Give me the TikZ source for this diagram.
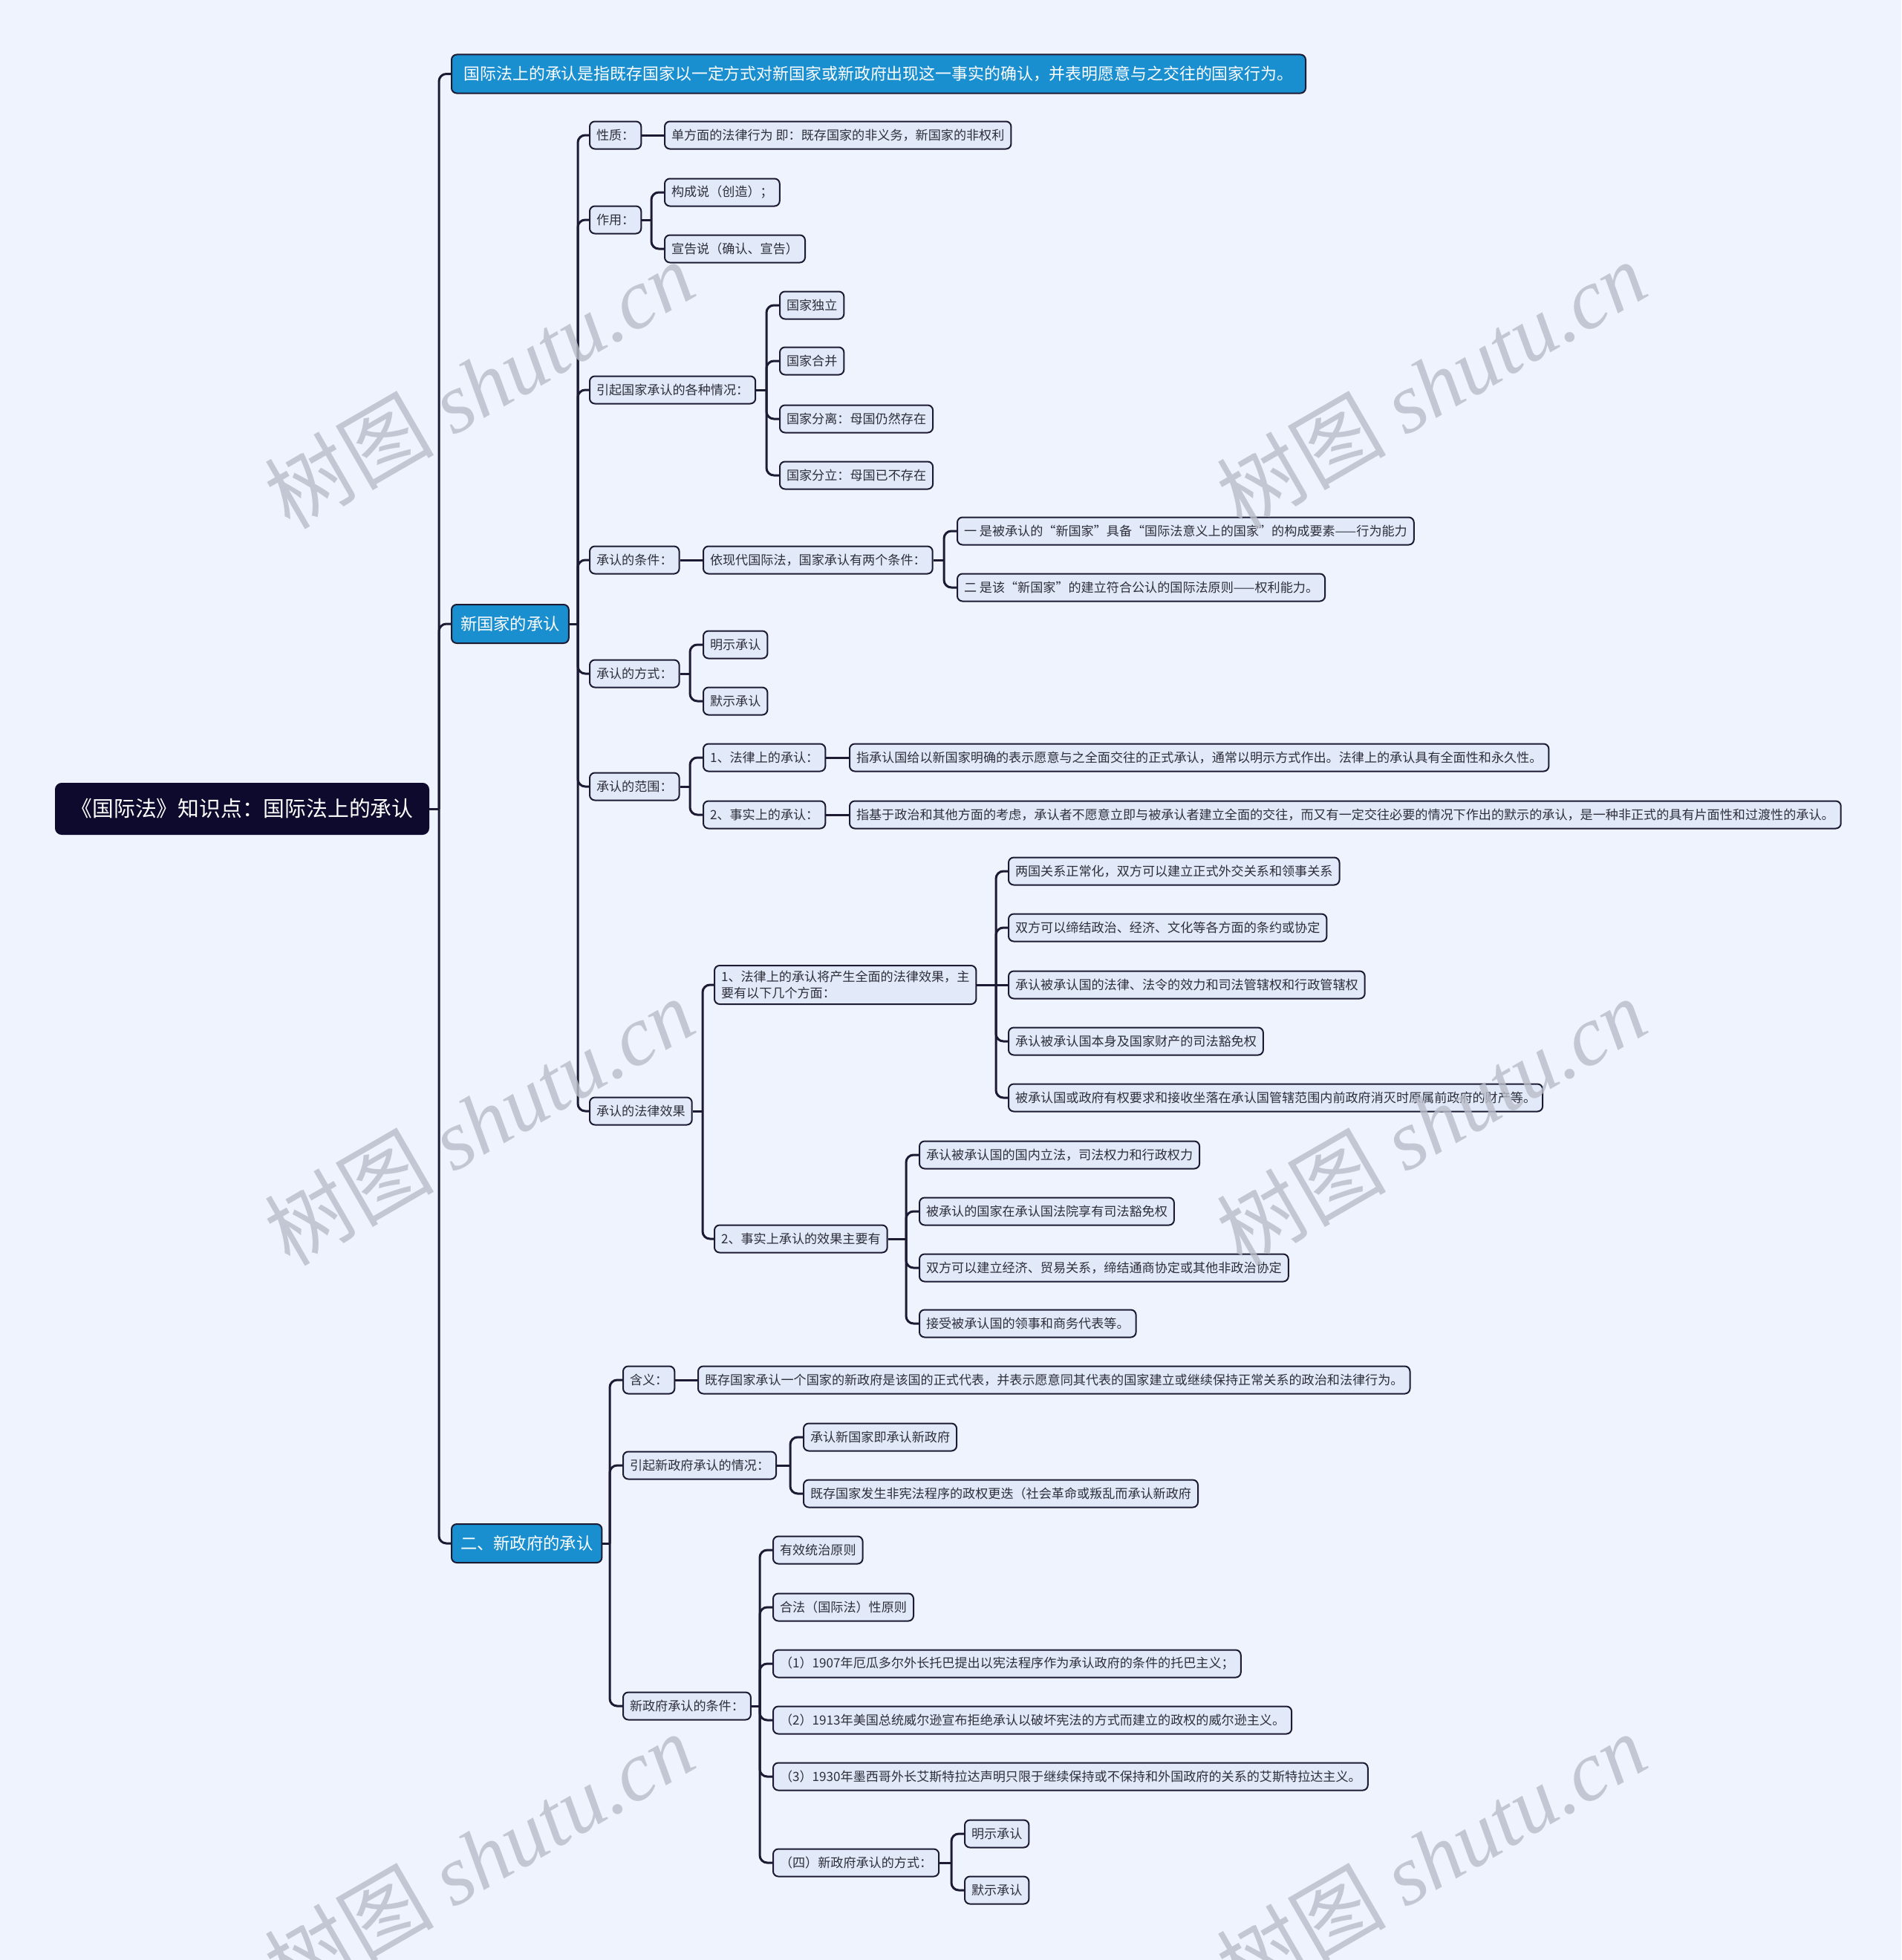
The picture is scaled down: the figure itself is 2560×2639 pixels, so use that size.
\documentclass[tikz,border=0pt]{standalone}
\usepackage{fontspec}
\setmainfont{Noto Sans CJK SC}
\newfontfamily\wmlatin{Liberation Serif}
\usetikzlibrary{calc}
\definecolor{bgC}{HTML}{EEF3FD}
\definecolor{nodeC}{HTML}{E2EAFA}
\definecolor{lineC}{HTML}{1C1B33}
\definecolor{blueC}{HTML}{1A8FD0}
\definecolor{rootC}{HTML}{0E0A2E}
\definecolor{textC}{HTML}{2E2E3A}
\definecolor{wmC}{HTML}{B9BDC9}
\begin{document}
\begin{tikzpicture}[x=1pt,y=-1pt,
  base/.style={draw=lineC, line width=2pt, rounded corners=7pt, anchor=west,
    inner xsep=9pt, inner ysep=0pt, minimum height=37pt,
    font=\fontsize{17.1}{22}\selectfont, text=textC, fill=nodeC},
  lone/.style={base, fill=blueC, text=white, font=\fontsize{22.3}{27}\selectfont,
    minimum height=52pt, inner xsep=12pt},
  rootbox/.style={base, fill=rootC, draw=rootC, text=white,
    font=\fontsize{28.8}{34}\selectfont, minimum height=68pt, minimum width=502pt, rounded corners=8pt},
  conn/.style={draw=lineC, line width=3pt, rounded corners=10pt},
  wm/.style={rotate=30, text=wmC, opacity=0.8, font=\fontsize{114}{114}\selectfont}
]
\useasboundingbox[fill=bgC] (0,0) rectangle (2560,2639);

% root and level 1
\node[rootbox] (root) at (74,1089) {《国际法》知识点：国际法上的承认};
\node[lone, minimum width=1150pt, inner xsep=10pt, font=\fontsize{21.9}{27}\selectfont] (def) at (607,99.5) {国际法上的承认是指既存国家以一定方式对新国家或新政府出现这一事实的确认，并表明愿意与之交往的国家行为。};
\node[lone, minimum width=155pt] (xgj) at (607,840) {新国家的承认};
\node[lone, minimum width=199pt] (xzf) at (607,2078) {二、新政府的承认};
\coordinate (j0) at (591,1089);
\draw[conn] (root.east) -- (j0);
\foreach \c in {def,xgj,xzf} \draw[conn] (j0) |- (\c.west);

% level 2 under 新国家的承认
\node[base] (xz) at (793,182) {性质：};
\node[base] (zy) at (793,296) {作用：};
\node[base] (qk) at (793,525) {引起国家承认的各种情况：};
\node[base] (tj) at (793,754) {承认的条件：};
\node[base] (fs) at (793,907) {承认的方式：};
\node[base] (fw) at (793,1059) {承认的范围：};
\node[base] (xg) at (793,1496) {承认的法律效果};
\coordinate (j1) at (778,840);
\draw[conn] (xgj.east) -- (j1);
\foreach \c in {xz,zy,qk,tj,fs,fw,xg} \draw[conn] (j1) |- (\c.west);

% 性质
\node[base] (xza) at (894,182) {单方面的法律行为 即：既存国家的非义务，新国家的非权利};
\draw[conn] (xz.east) -- (xza.west);

% 作用
\node[base] (zya) at (894,259) {构成说（创造）；};
\node[base] (zyb) at (894,335) {宣告说（确认、宣告）};
\coordinate (jzy) at (877,296);
\draw[conn] (zy.east) -- (jzy);
\foreach \c in {zya,zyb} \draw[conn] (jzy) |- (\c.west);

% 各种情况
\node[base] (qka) at (1049,411) {国家独立};
\node[base] (qkb) at (1049,486) {国家合并};
\node[base] (qkc) at (1049,564) {国家分离：母国仍然存在};
\node[base] (qkd) at (1049,640) {国家分立：母国已不存在};
\coordinate (jqk) at (1032,525);
\draw[conn] (qk.east) -- (jqk);
\foreach \c in {qka,qkb,qkc,qkd} \draw[conn] (jqk) |- (\c.west);

% 条件
\node[base] (tja) at (946,754) {依现代国际法，国家承认有两个条件：};
\draw[conn] (tj.east) -- (tja.west);
\node[base] (tjb) at (1288,715) {一 是被承认的“新国家”具备“国际法意义上的国家”的构成要素——行为能力};
\node[base] (tjc) at (1288,791) {二 是该“新国家”的建立符合公认的国际法原则——权利能力。};
\coordinate (jtj) at (1271,754);
\draw[conn] (tja.east) -- (jtj);
\foreach \c in {tjb,tjc} \draw[conn] (jtj) |- (\c.west);

% 方式
\node[base] (fsa) at (946,868) {明示承认};
\node[base] (fsb) at (946,944) {默示承认};
\coordinate (jfs) at (929,907);
\draw[conn] (fs.east) -- (jfs);
\foreach \c in {fsa,fsb} \draw[conn] (jfs) |- (\c.west);

% 范围
\node[base] (fwa) at (946,1020) {1、法律上的承认：};
\node[base] (fwb) at (946,1097) {2、事实上的承认：};
\coordinate (jfw) at (929,1059);
\draw[conn] (fw.east) -- (jfw);
\foreach \c in {fwa,fwb} \draw[conn] (jfw) |- (\c.west);
\node[base] (fwa1) at (1143,1020) {指承认国给以新国家明确的表示愿意与之全面交往的正式承认，通常以明示方式作出。法律上的承认具有全面性和永久性。};
\node[base] (fwb1) at (1143,1097) {指基于政治和其他方面的考虑，承认者不愿意立即与被承认者建立全面的交往，而又有一定交往必要的情况下作出的默示的承认，是一种非正式的具有片面性和过渡性的承认。};
\draw[conn] (fwa.east) -- (fwa1.west);
\draw[conn] (fwb.east) -- (fwb1.west);

% 法律效果
\node[base, align=left, inner ysep=7pt] (xga) at (961,1326) {1、法律上的承认将产生全面的法律效果，主\\要有以下几个方面：};
\node[base] (xgb) at (961,1668) {2、事实上承认的效果主要有};
\coordinate (jxg) at (946,1496);
\draw[conn] (xg.east) -- (jxg);
\foreach \c in {xga,xgb} \draw[conn] (jxg) |- (\c.west);

\node[base] (xga1) at (1357,1173) {两国关系正常化，双方可以建立正式外交关系和领事关系};
\node[base] (xga2) at (1357,1249) {双方可以缔结政治、经济、文化等各方面的条约或协定};
\node[base] (xga3) at (1357,1326) {承认被承认国的法律、法令的效力和司法管辖权和行政管辖权};
\node[base] (xga4) at (1357,1402) {承认被承认国本身及国家财产的司法豁免权};
\node[base] (xga5) at (1357,1478) {被承认国或政府有权要求和接收坐落在承认国管辖范围内前政府消灭时原属前政府的财产等。};
\coordinate (jxga) at (1341,1326);
\draw[conn] (xga.east) -- (xga3.west);
\foreach \c in {xga1,xga2,xga4,xga5} \draw[conn] (jxga) |- (\c.west);

\node[base] (xgb1) at (1237,1555) {承认被承认国的国内立法，司法权力和行政权力};
\node[base] (xgb2) at (1237,1631) {被承认的国家在承认国法院享有司法豁免权};
\node[base] (xgb3) at (1237,1707) {双方可以建立经济、贸易关系，缔结通商协定或其他非政治协定};
\node[base] (xgb4) at (1237,1782) {接受被承认国的领事和商务代表等。};
\coordinate (jxgb) at (1220,1668);
\draw[conn] (xgb.east) -- (jxgb);
\foreach \c in {xgb1,xgb2,xgb3,xgb4} \draw[conn] (jxgb) |- (\c.west);

% level 2 under 二、新政府的承认
\node[base] (hy) at (838,1858) {含义：};
\node[base] (yq) at (838,1973) {引起新政府承认的情况：};
\node[base] (zt) at (838,2297) {新政府承认的条件：};
\coordinate (j2) at (821,2078);
\draw[conn] (xzf.east) -- (j2);
\foreach \c in {hy,yq,zt} \draw[conn] (j2) |- (\c.west);

\node[base] (hya) at (939,1858) {既存国家承认一个国家的新政府是该国的正式代表，并表示愿意同其代表的国家建立或继续保持正常关系的政治和法律行为。};
\draw[conn] (hy.east) -- (hya.west);

\node[base] (yqa) at (1081,1935) {承认新国家即承认新政府};
\node[base] (yqb) at (1081,2011) {既存国家发生非宪法程序的政权更迭（社会革命或叛乱而承认新政府};
\coordinate (jyq) at (1064,1973);
\draw[conn] (yq.east) -- (jyq);
\foreach \c in {yqa,yqb} \draw[conn] (jyq) |- (\c.west);

\node[base] (zta) at (1040,2087) {有效统治原则};
\node[base] (ztb) at (1040,2164) {合法（国际法）性原则};
\node[base] (ztc) at (1040,2240) {（1）1907年厄瓜多尔外长托巴提出以宪法程序作为承认政府的条件的托巴主义；};
\node[base] (ztd) at (1040,2316) {（2）1913年美国总统威尔逊宣布拒绝承认以破坏宪法的方式而建立的政权的威尔逊主义。};
\node[base] (zte) at (1040,2392) {（3）1930年墨西哥外长艾斯特拉达声明只限于继续保持或不保持和外国政府的关系的艾斯特拉达主义。};
\node[base] (ztf) at (1040,2508) {（四）新政府承认的方式：};
\coordinate (jzt) at (1023,2297);
\draw[conn] (zt.east) -- (jzt);
\foreach \c in {zta,ztb,ztc,ztd,zte,ztf} \draw[conn] (jzt) |- (\c.west);

\node[base] (ztf1) at (1298,2469) {明示承认};
\node[base] (ztf2) at (1298,2545) {默示承认};
\coordinate (jztf) at (1281,2508);
\draw[conn] (ztf.east) -- (jztf);
\foreach \c in {ztf1,ztf2} \draw[conn] (jztf) |- (\c.west);

% watermarks
\foreach \p in {(645,518),(1927,518),(645,1510),(1927,1510),(645,2500),(1927,2500)}
  \node[wm] at \p {树图 {\wmlatin\itshape shutu.cn}};
\end{tikzpicture}
\end{document}
